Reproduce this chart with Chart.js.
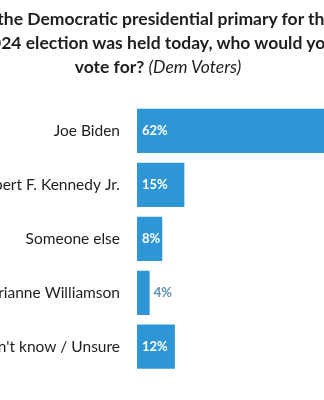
<!DOCTYPE html>
<html>
<head>
<meta charset="utf-8">
<script src="https://cdn.jsdelivr.net/npm/chart.js@4"></script>
<style>
  html, body { margin: 0; padding: 0; width: 324px; height: 400px; overflow: hidden; background: #fff; }
  #wrap { position: absolute; left: -60px; top: 0; width: 460px; height: 400px; }
  #title {
    position: absolute; left: -92px; top: 7px; width: 500px;
    font-family: Lato, "Open Sans", sans-serif; font-weight: bold; font-size: 17.5px;
    line-height: 24px; color: #1e1e1e; text-align: center; white-space: nowrap;
  }
  #title i { font-weight: normal; }
</style>
</head>
<body>
<div id="wrap"><canvas id="chart" width="460" height="400"></canvas></div>
<div id="title">
  If the Democratic presidential primary for the<br>
  2024 election was held today, who would you<br>
  vote for? <i>(Dem Voters)</i>
</div>
<script>
const categories = ['Joe Biden', 'Robert F. Kennedy Jr.', 'Someone else', 'Marianne Williamson', "Don't know / Unsure"];
const values     = [62, 15, 8, 4, 12];

const BAR_COLOR = '#2e96d6';

// value labels: white inside the bar, blue-grey outside when the bar is too thin
const valueLabels = {
  id: 'valueLabels',
  afterDatasetsDraw(chart) {
    const ctx = chart.ctx;
    const meta = chart.getDatasetMeta(0);
    ctx.save();
    ctx.font = 'bold 13px Lato, "Open Sans", sans-serif';
    ctx.textBaseline = 'middle';
    ctx.textAlign = 'left';
    meta.data.forEach((bar, i) => {
      const txt = values[i] + '%';
      const w = ctx.measureText(txt).width;
      const inside = bar.x - bar.base > w + 4;
      if (inside) {
        ctx.fillStyle = '#ffffff';
        ctx.fillText(txt, bar.base + 5, bar.y);
      } else {
        ctx.fillStyle = '#5a8fb2';
        ctx.fillText(txt, bar.x + 4, bar.y);
      }
    });
    ctx.restore();
  }
};

new Chart(document.getElementById('chart'), {
  type: 'bar',
  data: {
    labels: categories,
    datasets: [{
      data: values,
      backgroundColor: BAR_COLOR,
      barPercentage: 0.82,
      categoryPercentage: 1,
    }],
  },
  options: {
    indexAxis: 'y',
    responsive: false,
    animation: false,
    layout: { padding: { top: 104, bottom: 23, left: 0, right: 42 } },
    plugins: { legend: { display: false }, tooltip: { enabled: false } },
    scales: {
      x: { display: false, min: 0, max: 70 },
      y: {
        grid: { display: false, drawTicks: false },
        border: { display: false },
        ticks: {
          color: '#1e1e1e',
          padding: 17,
          font: { family: 'Lato, "Open Sans", sans-serif', size: 15.5 },
        },
        afterFit(scale) { scale.width = 197; },
      },
    },
  },
  plugins: [valueLabels],
});
</script>
</body>
</html>
